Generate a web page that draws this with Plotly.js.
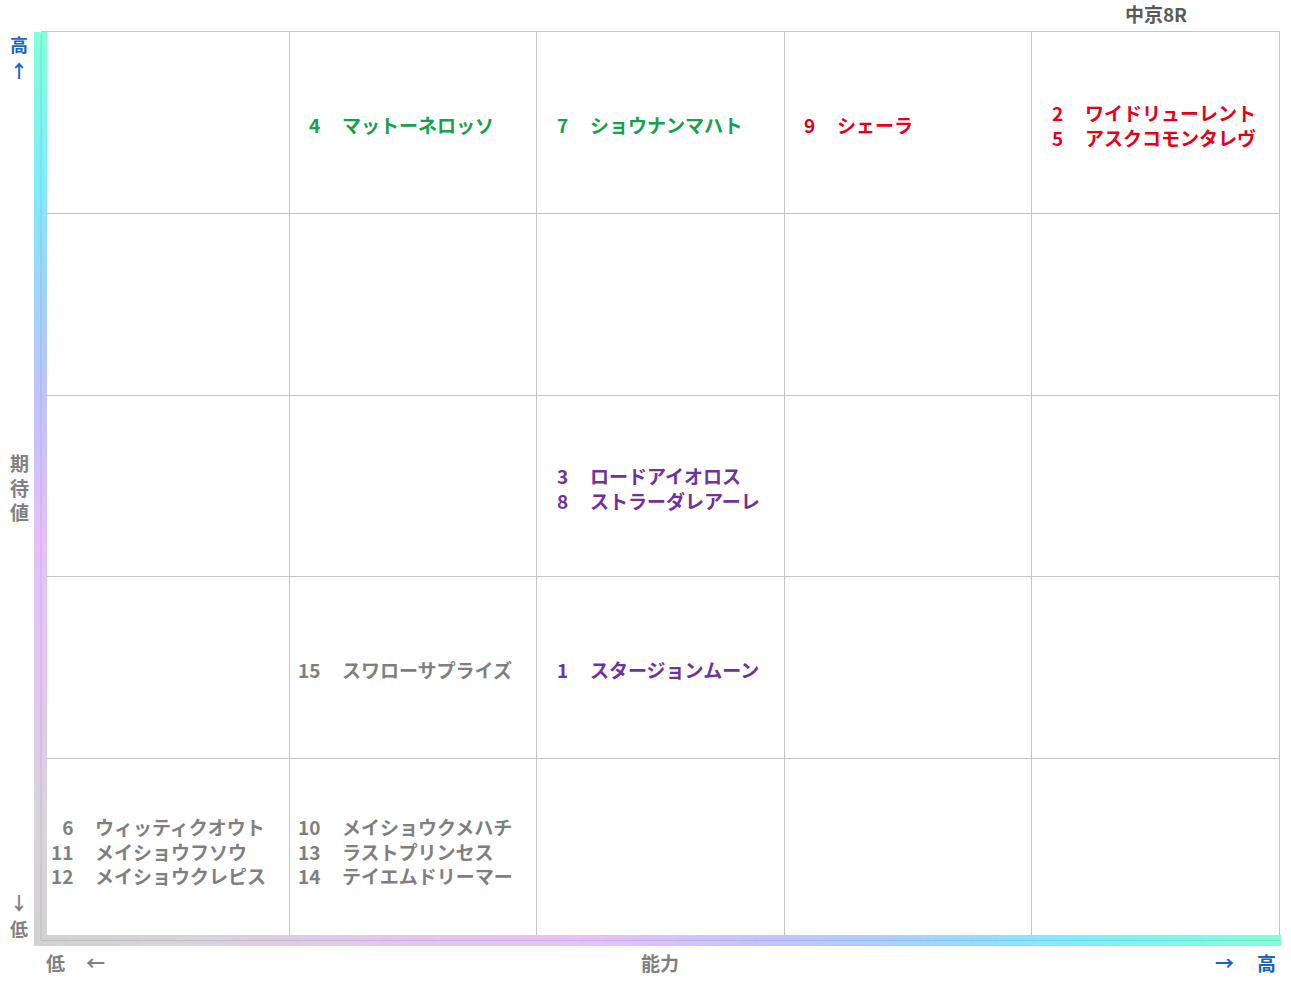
<!DOCTYPE html>
<html>
<head>
<meta charset="utf-8">
<script src="https://cdn.plot.ly/plotly-3.0.1.min.js"></script>
<style>html,body{margin:0;padding:0;background:#fff;}#chart{width:1291px;height:983px;}</style>
</head>
<body>
<div id="chart"></div>
<script>
// ---- data ----
const raceTitle = '中京8R';
const horseNums = [4, 7, 9, 2, 5, 3, 8, 15, 1, 6, 11, 12, 10, 13, 14];
const horseNames = ['マットーネロッソ', 'ショウナンマハト', 'シェーラ', 'ワイドリューレント', 'アスクコモンタレヴ',
  'ロードアイオロス', 'ストラーダレアーレ', 'スワローサプライズ', 'スタージョンムーン',
  'ウィッティクオウト', 'メイショウフソウ', 'メイショウクレピス', 'メイショウクメハチ', 'ラストプリンセス', 'テイエムドリーマー'];
const abilityCol = [2, 3, 4, 5, 5, 3, 3, 2, 3, 1, 1, 1, 2, 2, 2];   // 1 (low) .. 5 (high)
const expectRow = [5, 5, 5, 5, 5, 3, 3, 2, 2, 1, 1, 1, 1, 1, 1];    // 1 (low) .. 5 (high)
const horseGroup = ['g', 'g', 'r', 'r', 'r', 'p', 'p', 'k', 'p', 'k', 'k', 'k', 'k', 'k', 'k'];
const groupColors = {g: '#16a04c', r: '#e8001a', p: '#7030a0', k: '#7f7f7f'};
const xAxisLabel = '能力';
const yAxisLabel = ['期', '待', '値'];
const lowLabel = '低', highLabel = '高';

// ---- layout geometry ----
const W = 1291, H = 983;
const px = v => v / W, py = v => 1 - v / H;
const FONT = 'Noto Sans CJK JP, Noto Sans CJK SC, sans-serif';
const BOLD = 'bold';

// gradient bars via heatmaps
const N = 60;
const hz = [Array.from({length: N}, (_, i) => i / (N - 1))];
const vz = Array.from({length: N}, (_, i) => [i / (N - 1)]);
const gradScale = [
  [0.0, '#d2d2d2'], [0.12, '#d9d3dc'], [0.28, '#e3c6f0'], [0.45, '#e6c0fb'],
  [0.6, '#c0c4ff'], [0.72, '#a0d4ff'], [0.84, '#80ecff'], [1.0, '#80ffdc']
];

const traces = [
  {type: 'heatmap', z: vz, xaxis: 'x2', yaxis: 'y2', colorscale: gradScale, showscale: false,
   zsmooth: 'best', hoverinfo: 'skip', zmin: 0, zmax: 1},
  {type: 'heatmap', z: hz, xaxis: 'x3', yaxis: 'y3', colorscale: gradScale, showscale: false,
   zsmooth: 'best', hoverinfo: 'skip', zmin: 0, zmax: 1}
];

// group horses per cell
const cells = {};
horseNums.forEach((n, i) => {
  const key = abilityCol[i] + '_' + expectRow[i];
  if (!cells[key]) cells[key] = {col: abilityCol[i], row: expectRow[i], nums: [], names: [], color: groupColors[horseGroup[i]]};
  cells[key].nums.push(String(n));
  cells[key].names.push(horseNames[i]);
});

const annotations = [];
Object.values(cells).forEach(c => {
  annotations.push({
    x: c.col - 1, y: c.row - 0.5, xref: 'x', yref: 'y',
    text: c.nums.join('<br>'), showarrow: false, xanchor: 'right', yanchor: 'middle', align: 'right',
    xshift: 33, yshift: -2,
    font: {family: FONT, size: 19, color: c.color, weight: BOLD}
  });
  annotations.push({
    x: c.col - 1, y: c.row - 0.5, xref: 'x', yref: 'y',
    text: c.names.join('<br>'), showarrow: false, xanchor: 'left', yanchor: 'middle', align: 'left',
    xshift: 51, yshift: -2,
    font: {family: FONT, size: 19, color: c.color, weight: BOLD}
  });
});

function paperText(text, x, y, color, size) {
  annotations.push({
    x: px(x), y: py(y), xref: 'paper', yref: 'paper', text: text, showarrow: false,
    xanchor: 'center', yanchor: 'middle',
    font: {family: FONT, size: size || 19, color: color, weight: BOLD}
  });
}
const blue = '#1a64bf', gray = '#808080';
paperText(xAxisLabel, 660, 962, gray);
paperText(lowLabel, 55, 962, gray);
paperText('←', 96, 962, gray);
paperText('→', 1224, 962, blue);
paperText(highLabel, 1266, 962, blue);
paperText(highLabel, 19, 44, blue, 18);
paperText('↑', 19, 70, blue, 18);
paperText(yAxisLabel.join('<br>'), 19, 487, gray);
paperText('↓', 19, 902, gray, 18);
paperText(lowLabel, 19, 928, gray, 18);

const layout = {
  width: W, height: H,
  margin: {l: 0, r: 0, t: 0, b: 0},
  paper_bgcolor: '#ffffff', plot_bgcolor: '#ffffff',
  showlegend: false,
  title: {text: raceTitle, x: px(1156), xanchor: 'center', y: py(15), yanchor: 'middle',
          xref: 'paper', yref: 'paper',
          font: {family: FONT, size: 19, color: '#5a5a5a', weight: BOLD}},
  xaxis: {domain: [px(42), px(1279)], range: [0, 5], dtick: 1, tick0: 0, showgrid: true,
          gridcolor: '#c4c4c4', gridwidth: 1, zeroline: false, showticklabels: false, ticks: '',
          showline: true, mirror: true, linecolor: '#c4c4c4', linewidth: 1, fixedrange: true},
  yaxis: {domain: [py(940), py(32)], range: [0, 5], dtick: 1, tick0: 0, showgrid: true,
          gridcolor: '#c4c4c4', gridwidth: 1, zeroline: false, showticklabels: false, ticks: '',
          showline: true, mirror: true, linecolor: '#c4c4c4', linewidth: 1, fixedrange: true},
  xaxis2: {domain: [px(34), px(47)], anchor: 'y2', visible: false, fixedrange: true},
  yaxis2: {domain: [py(942), py(32)], anchor: 'x2', visible: false, fixedrange: true},
  xaxis3: {domain: [px(34), px(1281)], anchor: 'y3', visible: false, fixedrange: true},
  yaxis3: {domain: [py(946), py(935)], anchor: 'x3', visible: false, fixedrange: true},
  annotations: annotations,
  shapes: [
    {type: 'line', xref: 'paper', yref: 'paper', x0: px(41), x1: px(41), y0: py(940), y1: py(34),
     line: {color: 'rgba(0,0,0,0.10)', width: 1}},
    {type: 'line', xref: 'paper', yref: 'paper', x0: px(41), x1: px(1280), y0: py(940.5), y1: py(940.5),
     line: {color: 'rgba(0,0,0,0.10)', width: 1}}
  ]
};

Plotly.newPlot('chart', traces, layout, {displayModeBar: false, staticPlot: true});
</script>
</body>
</html>
